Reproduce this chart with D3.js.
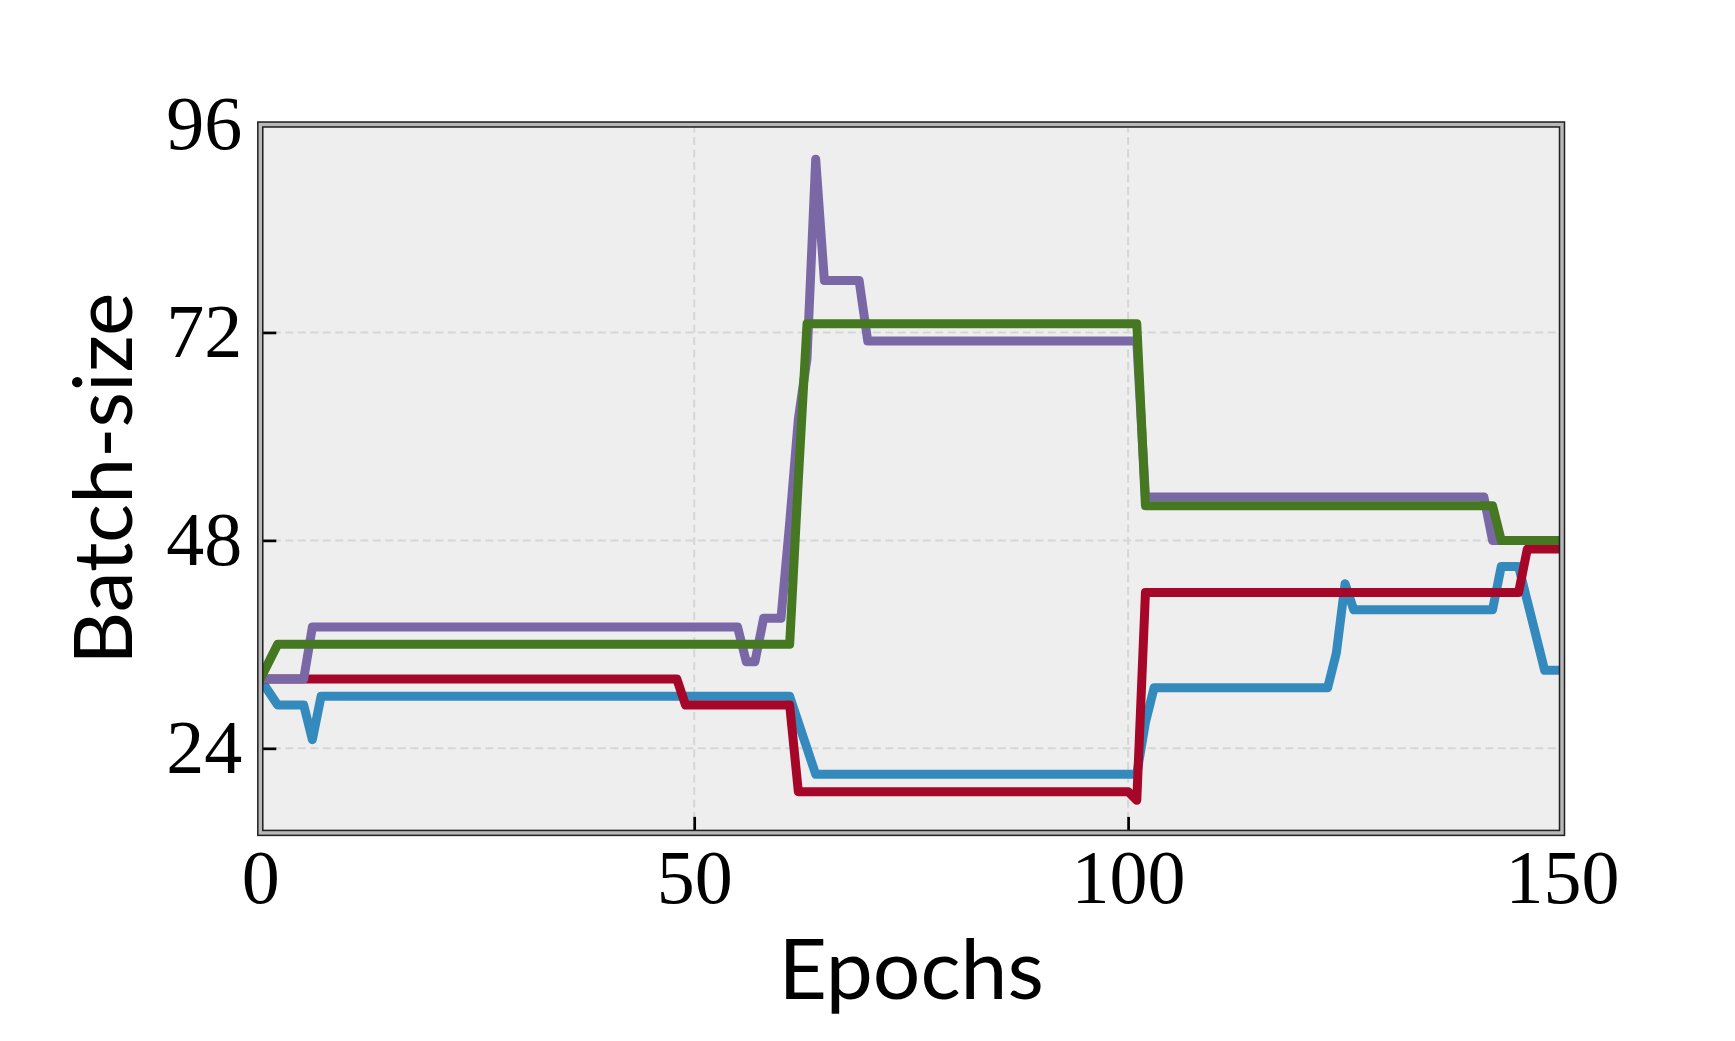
<!DOCTYPE html>
<html>
<head>
  <meta charset="utf-8">
  <title>Batch-size over epochs</title>
  <script src="https://d3js.org/d3.v7.min.js"></script>
  <style>
    body { margin: 0; background: #fff; }
  </style>
</head>
<body>
  <script>
    // data (epoch, batch-size vertices)
    var blueEpochs   = [0, 2, 5, 6, 7, 61, 62, 63, 64, 101, 102, 103, 123, 124, 125, 126, 142, 143, 145, 146, 147, 148, 150];
    var blueValues   = [32, 29, 29, 25, 30, 30, 27, 24, 21, 21, 27, 31, 31, 35, 43, 40, 40, 45, 45, 41, 37, 33, 33];
    var redEpochs    = [0, 48, 49, 61, 62, 100, 101, 102, 145, 146, 150];
    var redValues    = [32, 32, 29, 29, 19, 19, 18, 42, 42, 47, 47];
    var purpleEpochs = [0, 5, 6, 55, 56, 57, 58, 60, 61, 62, 63, 64, 65, 69, 70, 101, 102, 141, 142, 150];
    var purpleValues = [32, 32, 38, 38, 34, 34, 39, 39, 50, 62, 69, 92, 78, 78, 71, 71, 53, 53, 48, 48];
    var greenEpochs  = [0, 2, 61, 62, 63, 101, 102, 142, 143, 150];
    var greenValues  = [32, 36, 36, 55, 73, 73, 52, 52, 48, 48];

    var xTicks = [0, 50, 100, 150];
    var yTicks = [24, 48, 72, 96];

    var series = [
      {xs: blueEpochs,   ys: blueValues,   color: "#348ABD"},
      {xs: redEpochs,    ys: redValues,    color: "#A60628"},
      {xs: purpleEpochs, ys: purpleValues, color: "#7A68A6"},
      {xs: greenEpochs,  ys: greenValues,  color: "#467821"}
    ];

    var W = 1735, H = 1041;
    // plot box (window.top is reserved, so px* names)
    var pxL = 260.3, pxR = 1562, pxT = 124.5, pxB = 832.9;

    var x = d3.scaleLinear().domain([0, 150]).range([pxL, pxR]);
    var y = d3.scaleLinear().domain([14.24, 96]).range([pxB, pxT]);

    var svg = d3.select("body").append("svg")
      .attr("width", W).attr("height", H);

    svg.append("defs").append("clipPath").attr("id", "plot")
      .append("rect")
      .attr("x", pxL).attr("y", pxT)
      .attr("width", pxR - pxL).attr("height", pxB - pxT);

    // background
    svg.append("rect")
      .attr("x", pxL).attr("y", pxT)
      .attr("width", pxR - pxL).attr("height", pxB - pxT)
      .attr("fill", "#eeeeee");

    // grid
    var grid = svg.append("g").attr("stroke", "#d6d6d6")
      .attr("stroke-width", 2).attr("stroke-dasharray", "8,4.5");
    grid.selectAll(".gx").data(xTicks.slice(1, -1)).enter().append("line")
      .attr("x1", function(d){ return x(d); }).attr("x2", function(d){ return x(d); })
      .attr("y1", pxT).attr("y2", pxB);
    grid.selectAll(".gy").data(yTicks.slice(0, -1)).enter().append("line")
      .attr("y1", function(d){ return y(d); }).attr("y2", function(d){ return y(d); })
      .attr("x1", pxL).attr("x2", pxR);

    // axes with inward ticks
    var serif = "'Liberation Serif', 'DejaVu Serif', serif";
    var xAxis = svg.append("g")
      .attr("transform", "translate(0," + pxB + ")")
      .call(d3.axisBottom(x).tickValues(xTicks).tickSize(-16).tickPadding(16));
    var yAxis = svg.append("g")
      .attr("transform", "translate(" + pxL + ",0)")
      .call(d3.axisLeft(y).tickValues(yTicks).tickSize(-16).tickPadding(18));
    [xAxis, yAxis].forEach(function(a){
      a.select(".domain").remove();
      a.selectAll(".tick line").attr("stroke", "#000").attr("stroke-width", 2.7);
      a.selectAll(".tick text").attr("fill", "#000")
        .style("font-family", serif).style("font-size", "76px");
    });

    // lines
    var line = d3.line()
      .x(function(d){ return x(d[0]); })
      .y(function(d){ return y(d[1]); });
    svg.append("g").attr("clip-path", "url(#plot)")
      .selectAll("path").data(series).enter().append("path")
      .attr("d", function(s){ return line(s.xs.map(function(e, i){ return [e, s.ys[i]]; })); })
      .attr("fill", "none")
      .attr("stroke", function(s){ return s.color; })
      .attr("stroke-width", 9)
      .attr("stroke-linejoin", "round")
      .attr("stroke-linecap", "round");

    // frame: dark edges with a grey band
    svg.append("rect")
      .attr("x", pxL).attr("y", pxT)
      .attr("width", pxR - pxL).attr("height", pxB - pxT)
      .attr("fill", "none").attr("stroke", "#222").attr("stroke-width", 6.5);
    svg.append("rect")
      .attr("x", pxL).attr("y", pxT)
      .attr("width", pxR - pxL).attr("height", pxB - pxT)
      .attr("fill", "none").attr("stroke", "#b9b9b9").attr("stroke-width", 3.4);

    // axis titles
    var sans = "Lato, 'Open Sans', sans-serif";
    svg.append("text")
      .attr("x", (pxL + pxR) / 2).attr("y", 999)
      .attr("text-anchor", "middle")
      .style("font-family", sans).style("font-size", "84px")
      .text("Epochs");
    svg.append("text")
      .attr("transform", "translate(132," + ((pxT + pxB) / 2) + ") rotate(-90)")
      .attr("text-anchor", "middle")
      .style("font-family", sans).style("font-size", "82px")
      .text("Batch-size");
  </script>
</body>
</html>
